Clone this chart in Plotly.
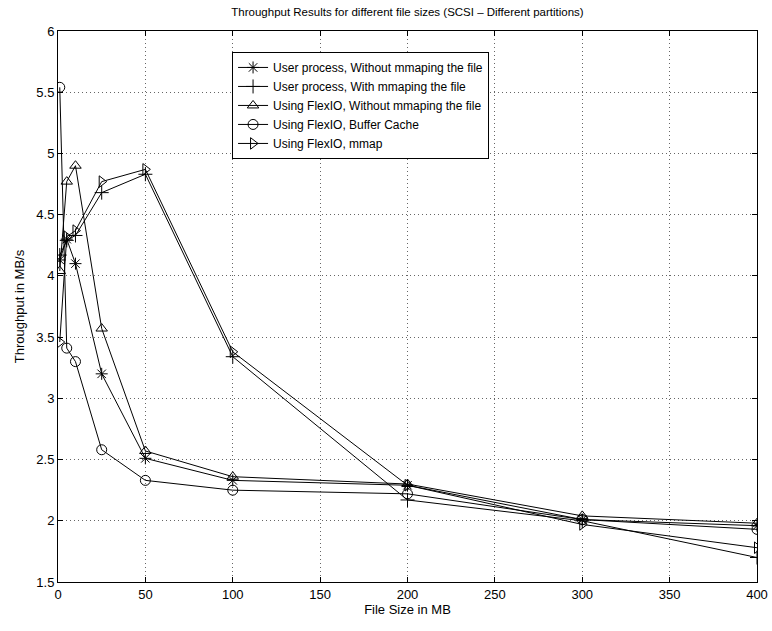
import plotly.graph_objects as go

file_sizes = [1, 5, 10, 25, 50, 100, 200, 300, 400]

user_no_mmap = [4.13, 4.30, 4.10, 3.20, 2.51, 2.33, 2.29, 2.01, 1.96]
user_mmap = [4.17, 4.29, 4.33, 4.68, 4.83, 3.34, 2.17, 2.00, 1.70]
flexio_no_mmap = [4.04, 4.77, 4.90, 3.57, 2.57, 2.36, 2.30, 2.04, 1.98]
flexio_buffer = [5.54, 3.41, 3.30, 2.58, 2.33, 2.25, 2.22, 2.01, 1.93]
flexio_mmap = [3.46, 4.32, 4.37, 4.77, 4.87, 3.38, 2.29, 1.97, 1.78]

series_names = [
    "User process, Without mmaping the file",
    "User process, With mmaping the file",
    "Using FlexIO, Without mmaping the file",
    "Using FlexIO, Buffer Cache",
    "Using FlexIO, mmap",
]
series_values = [user_no_mmap, user_mmap, flexio_no_mmap, flexio_buffer, flexio_mmap]
symbols = ["asterisk-open", "cross-thin-open", "triangle-up-open", "circle-open", "triangle-right-open"]

x_ticks = [0, 50, 100, 150, 200, 250, 300, 350, 400]
y_ticks = [1.5, 2, 2.5, 3, 3.5, 4, 4.5, 5, 5.5, 6]
y_tick_labels = ["1.5", "2", "2.5", "3", "3.5", "4", "4.5", "5", "5.5", "6"]

fig = go.Figure()
for name, vals, sym in zip(series_names, series_values, symbols):
    fig.add_trace(go.Scatter(
        x=file_sizes, y=vals, name=name, mode="lines+markers",
        line=dict(color="black", width=1),
        marker=dict(symbol=sym, size=10, color="black",
                    line=dict(color="black", width=1)),
    ))

axis_common = dict(
    showline=True, linecolor="black", linewidth=1, mirror="allticks",
    ticks="inside", ticklen=5, tickcolor="black",
    showgrid=True, gridcolor="#666666", griddash="1px,3px", gridwidth=1,
    zeroline=False, tickfont=dict(size=13, color="black"),
    automargin=False,
)

fig.update_layout(
    width=772, height=631,
    paper_bgcolor="white", plot_bgcolor="white",
    font=dict(family="Liberation Sans, Arial, sans-serif", color="black", size=12),
    margin=dict(l=58, r=15, t=31, b=49),
    title=dict(text="Throughput Results for different file sizes (SCSI \u2013 Different partitions)",
               x=0.5, xref="paper", xanchor="center",
               y=1 - 12/631, yanchor="middle",
               font=dict(size=11.5, color="black")),
    showlegend=True,
    legend=dict(x=0.249, y=0.962, xanchor="left", yanchor="top",
                bgcolor="white", bordercolor="black", borderwidth=1,
                font=dict(size=12, color="black"),
                tracegroupgap=0, itemwidth=30),
    xaxis=dict(range=[0, 400], tickvals=x_ticks,
               title=dict(text="File Size in MB", standoff=4, font=dict(size=13)),
               **axis_common),
    yaxis=dict(range=[1.5, 6], tickvals=y_ticks, ticktext=y_tick_labels,
               title=dict(text="Throughput in MB/s", standoff=8, font=dict(size=13)),
               **axis_common),
)

fig.write_html("out.html", config={"displayModeBar": False},
               post_script="document.body.style.margin='0';")
